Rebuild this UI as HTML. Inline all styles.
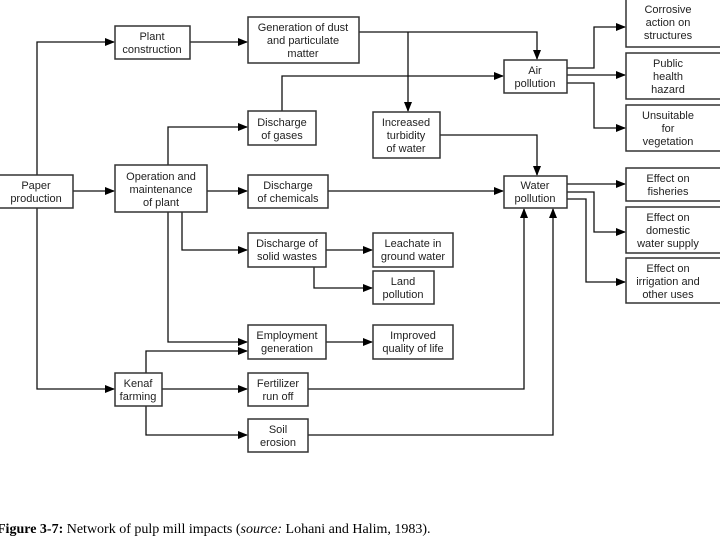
<!DOCTYPE html>
<html><head><meta charset="utf-8"><style>
html,body{margin:0;padding:0;background:#fff;}
svg{display:block;}
text{font-family:"Liberation Sans",sans-serif;font-size:11px;fill:#222;text-anchor:middle;}
rect{fill:#fff;stroke:#333;stroke-width:1.5;}
line,polyline{stroke:#111;stroke-width:1.3;fill:none;}
</style></head><body>
<svg width="720" height="540" viewBox="0 0 720 540">
<defs><marker id="a" markerWidth="10" markerHeight="8" refX="9" refY="4" orient="auto" markerUnits="userSpaceOnUse"><path d="M0,0 L10,4 L0,8z" fill="#000"/></marker></defs>
<!-- connectors -->
<g marker-end="url(#a)">
<polyline points="37,175 37,42 114,42"/>
<polyline points="37,208 37,389 114,389"/>
<line x1="73" y1="191" x2="114" y2="191"/>
<line x1="190" y1="42" x2="247" y2="42"/>
<polyline points="359,32 537,32 537,59"/>
<polyline points="408,32 408,111"/>
<polyline points="282,111 282,76 503,76"/>
<polyline points="567,68 594,68 594,27 625,27"/>
<line x1="567" y1="75" x2="625" y2="75"/>
<polyline points="567,83 594,83 594,128 625,128"/>
<polyline points="440,135 537,135 537,175"/>
<polyline points="168,165 168,127 247,127"/>
<line x1="207" y1="191" x2="247" y2="191"/>
<polyline points="168,212 168,342 247,342"/>
<polyline points="182,212 182,250 247,250"/>
<line x1="328" y1="191" x2="503" y2="191"/>
<line x1="567" y1="184" x2="625" y2="184"/>
<polyline points="567,192 594,192 594,232 625,232"/>
<polyline points="567,199 586,199 586,282 625,282"/>
<polyline points="308,389 524,389 524,209"/>
<polyline points="308,435 553,435 553,209"/>
<line x1="326" y1="250" x2="372" y2="250"/>
<polyline points="314,267 314,288 372,288"/>
<line x1="326" y1="342" x2="372" y2="342"/>
<polyline points="146,373 146,351 247,351"/>
<line x1="162" y1="389" x2="247" y2="389"/>
<polyline points="146,406 146,435 247,435"/>
</g>
<!-- boxes -->
<rect x="-2" y="175" width="75" height="33"/><text x="36" y="189">Paper</text><text x="36" y="202">production</text>
<rect x="115" y="26" width="75" height="33"/><text x="152" y="40">Plant</text><text x="152" y="53">construction</text>
<rect x="248" y="17" width="111" height="46"/><text x="303" y="31">Generation of dust</text><text x="303" y="44">and  particulate</text><text x="303" y="57">matter</text>
<rect x="248" y="111" width="68" height="34"/><text x="282" y="126">Discharge</text><text x="282" y="139">of gases</text>
<rect x="115" y="165" width="92" height="47"/><text x="161" y="180">Operation and</text><text x="161" y="193">maintenance</text><text x="161" y="206">of plant</text>
<rect x="248" y="175" width="80" height="33"/><text x="288" y="189">Discharge</text><text x="288" y="202">of chemicals</text>
<rect x="504" y="60" width="63" height="33"/><text x="535" y="74">Air</text><text x="535" y="87">pollution</text>
<rect x="373" y="112" width="67" height="46"/><text x="406" y="126">Increased</text><text x="406" y="139">turbidity</text><text x="406" y="152">of water</text>
<rect x="626" y="-2" width="96" height="49"/><text x="668" y="13">Corrosive</text><text x="668" y="26">action on</text><text x="668" y="39">structures</text>
<rect x="626" y="53" width="96" height="46"/><text x="668" y="67">Public</text><text x="668" y="80">health</text><text x="668" y="93">hazard</text>
<rect x="626" y="105" width="96" height="46"/><text x="668" y="119">Unsuitable</text><text x="668" y="132">for</text><text x="668" y="145">vegetation</text>
<rect x="504" y="176" width="63" height="32"/><text x="535" y="189">Water</text><text x="535" y="202">pollution</text>
<rect x="626" y="168" width="96" height="33"/><text x="668" y="182">Effect on</text><text x="668" y="195">fisheries</text>
<rect x="626" y="207" width="96" height="46"/><text x="668" y="221">Effect on</text><text x="668" y="234">domestic</text><text x="668" y="247">water supply</text>
<rect x="626" y="258" width="96" height="45"/><text x="668" y="272">Effect on</text><text x="668" y="285">irrigation and</text><text x="668" y="298">other uses</text>
<rect x="248" y="233" width="78" height="34"/><text x="287" y="247">Discharge of</text><text x="287" y="260">solid wastes</text>
<rect x="373" y="233" width="80" height="34"/><text x="413" y="247">Leachate in</text><text x="413" y="260">ground water</text>
<rect x="373" y="271" width="61" height="33"/><text x="403" y="285">Land</text><text x="403" y="298">pollution</text>
<rect x="248" y="325" width="78" height="34"/><text x="287" y="339">Employment</text><text x="287" y="352">generation</text>
<rect x="373" y="325" width="80" height="34"/><text x="413" y="339">Improved</text><text x="413" y="352">quality of life</text>
<rect x="115" y="373" width="47" height="33"/><text x="138" y="387">Kenaf</text><text x="138" y="400">farming</text>
<rect x="248" y="373" width="60" height="33"/><text x="278" y="387">Fertilizer</text><text x="278" y="400">run off</text>
<rect x="248" y="419" width="60" height="33"/><text x="278" y="433">Soil</text><text x="278" y="446">erosion</text>
<text x="-3" y="533" style="font-family:'Liberation Serif',serif;font-size:14px;text-anchor:start;fill:#000"><tspan font-weight="bold">Figure 3-7:</tspan> Network of pulp mill impacts (<tspan font-style="italic">source:</tspan> Lohani and Halim, 1983).</text>
</svg>
</body></html>
